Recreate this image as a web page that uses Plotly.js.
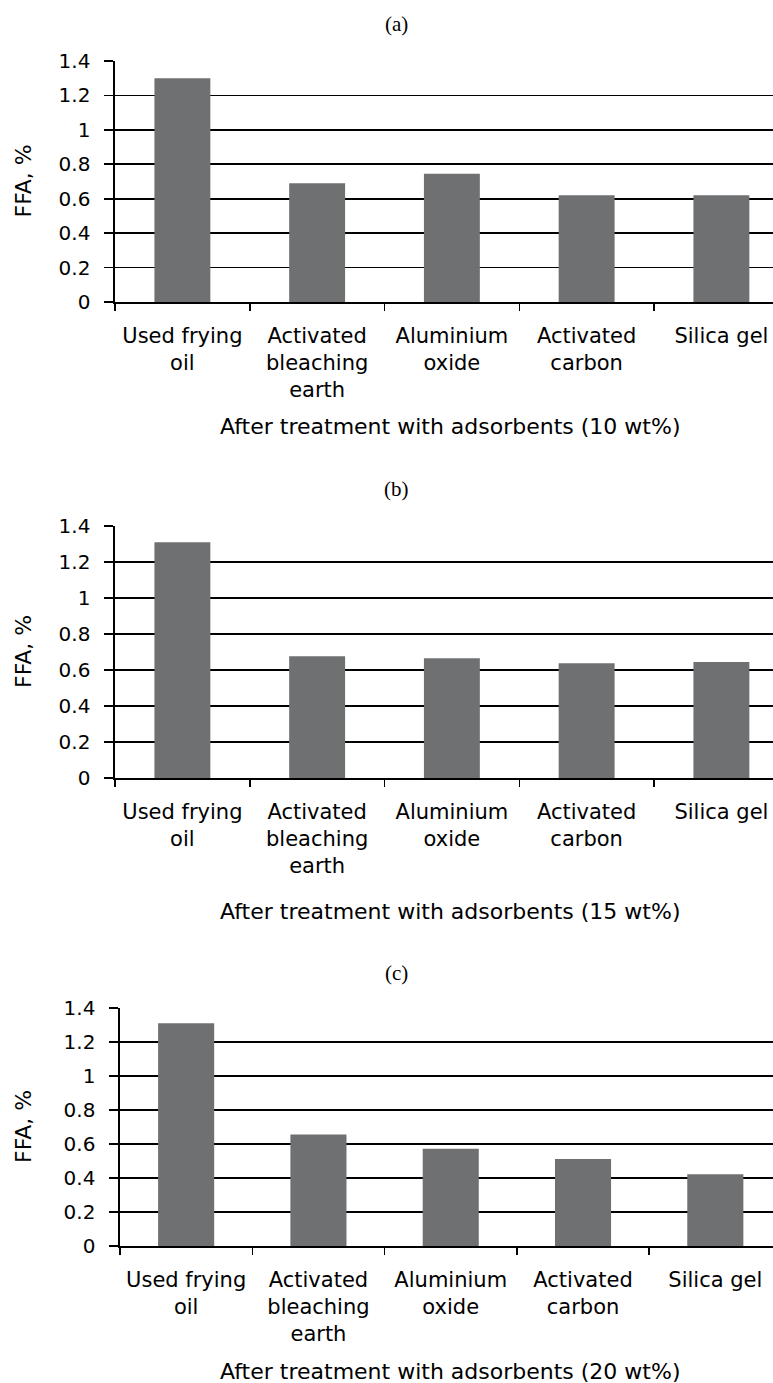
<!DOCTYPE html>
<html>
<head>
<meta charset="utf-8">
<script src="https://cdn.plot.ly/plotly-3.0.1.min.js"></script>
<style>
  html, body { margin: 0; padding: 0; background: #fff; }
  #chart { width: 773px; height: 1383px; }
</style>
</head>
<body>
<div id="chart"></div>
<script>
// ---- data ----
const categories = ['Used frying<br>oil', 'Activated<br>bleaching<br>earth', 'Aluminium<br>oxide', 'Activated<br>carbon', 'Silica gel'];
const ffa10 = [1.30, 0.69, 0.745, 0.62, 0.62];
const ffa15 = [1.31, 0.676, 0.665, 0.637, 0.644];
const ffa20 = [1.31, 0.656, 0.572, 0.512, 0.422];
const yTickVals = [0, 0.2, 0.4, 0.6, 0.8, 1.0, 1.2, 1.4];
const yTickText = ['0', '0.2', '0.4', '0.6', '0.8', '1', '1.2', '1.4'];
const panelLabels = ['(a)', '(b)', '(c)'];
const xTitles = ['After treatment with adsorbents (10 wt%)',
                 'After treatment with adsorbents (15 wt%)',
                 'After treatment with adsorbents (20 wt%)'];
const yTitle = 'FFA, %';

// ---- styling ----
const W = 773, H = 1383;
const SANS = 'DejaVu Sans, Liberation Sans, Arial, sans-serif';
const SERIF = 'Liberation Serif, Times New Roman, serif';
const BAR = '#6f7072';

function py(px) { return 1 - px / H; }

const panels = [
  { vals: ffa10, top: 61,   bot: 302,  left: 115, right: 4.383, bw: 0.415, lab: 24,  xt: 426 },
  { vals: ffa15, top: 526,  bot: 778,  left: 115, right: 4.383, bw: 0.415, lab: 489, xt: 911 },
  { vals: ffa20, top: 1008, bot: 1246, left: 120, right: 4.436, bw: 0.424, lab: 973, xt: 1371 }
];

const data = [];
const layout = {
  width: W, height: H,
  margin: { l: 0, r: 0, t: 0, b: 0 },
  paper_bgcolor: '#fff', plot_bgcolor: '#fff',
  showlegend: false,
  font: { family: SANS, color: '#000' },
  annotations: []
};

panels.forEach((p, i) => {
  const n = i === 0 ? '' : String(i + 1);
  data.push({
    type: 'bar',
    x: categories,
    y: p.vals,
    width: p.bw,
    marker: { color: BAR, line: { width: 0 } },
    xaxis: 'x' + n, yaxis: 'y' + n,
    hoverinfo: 'skip'
  });
  layout['xaxis' + n] = {
    domain: [p.left / W, 1],
    anchor: 'y' + n,
    type: 'category',
    range: [-0.5, p.right],
    showline: true, linecolor: '#000', linewidth: 1.6,
    ticks: 'outside', tickson: 'boundaries', ticklen: 7, tickwidth: 1.5, tickcolor: '#000',
    showgrid: false, zeroline: false,
    tickfont: { family: SANS, size: 21, color: '#000' },
    ticklabelstandoff: 14,
    fixedrange: true
  };
  layout['yaxis' + n] = {
    domain: [py(p.bot), py(p.top)],
    anchor: 'x' + n,
    range: [0, 1.4],
    tickmode: 'array', tickvals: yTickVals, ticktext: yTickText,
    showline: true, linecolor: '#000', linewidth: 1.6,
    ticks: 'outside', ticklen: 9, tickwidth: 1.6, tickcolor: '#000',
    showgrid: true, gridcolor: '#000', gridwidth: 1.6,
    zeroline: false,
    tickfont: { family: SANS, size: 20, color: '#000' },
    ticklabelstandoff: 10,
    fixedrange: true
  };
  // panel label (a)/(b)/(c)
  layout.annotations.push({
    text: panelLabels[i],
    xref: 'paper', yref: 'paper',
    x: 396 / W, y: py(p.lab),
    xanchor: 'center', yanchor: 'middle',
    showarrow: false,
    font: { family: SERIF, size: 21, color: '#000' }
  });
  // x-axis title
  layout.annotations.push({
    text: xTitles[i],
    xref: 'paper', yref: 'paper',
    x: 450 / W, y: py(p.xt),
    xanchor: 'center', yanchor: 'middle',
    showarrow: false,
    font: { family: SANS, size: 22, color: '#000' }
  });
  // y-axis title
  layout.annotations.push({
    text: yTitle,
    xref: 'paper', yref: 'paper',
    x: 23 / W, y: py((p.top + p.bot) / 2),
    xanchor: 'center', yanchor: 'middle',
    textangle: -90,
    showarrow: false,
    font: { family: SANS, size: 22, color: '#000' }
  });
});

Plotly.newPlot('chart', data, layout, { staticPlot: true, displayModeBar: false });
</script>
</body>
</html>
